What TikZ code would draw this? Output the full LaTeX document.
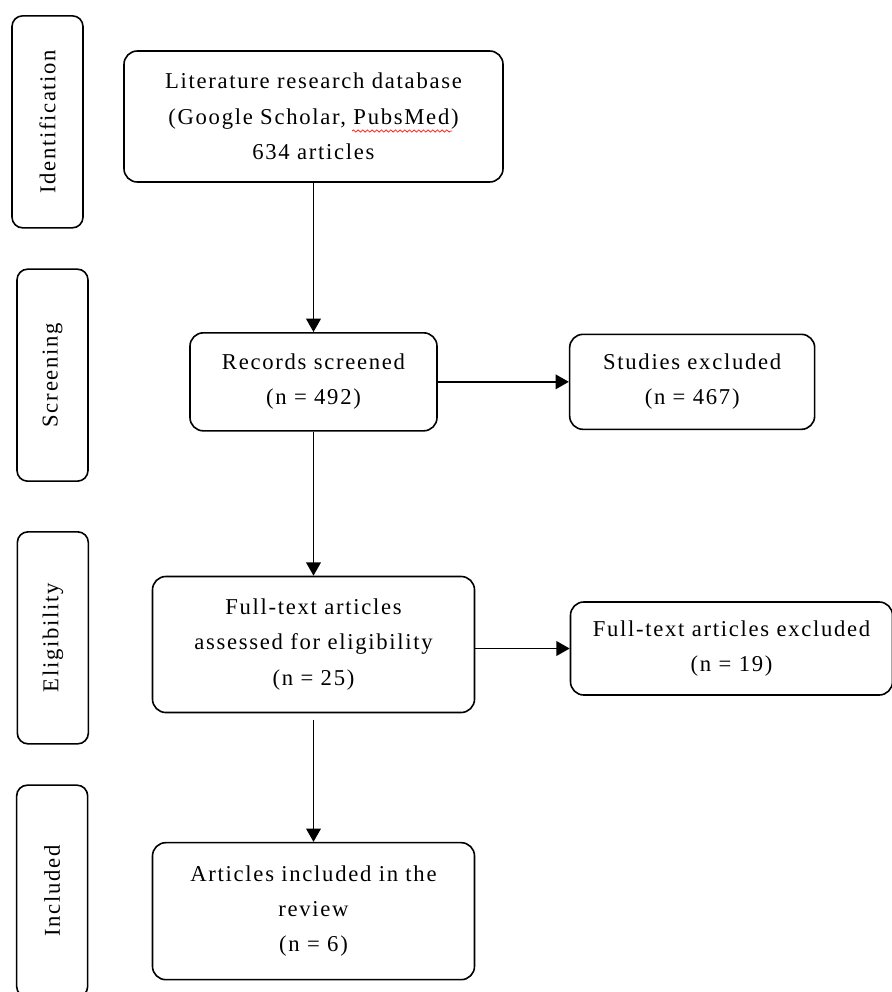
\documentclass[tikz,border=0pt]{standalone}
\usepackage{fontspec}
\setmainfont{Liberation Serif}[LetterSpace=7.5]
\usetikzlibrary{arrows.meta,positioning,decorations.pathmorphing}

\begin{document}
\begin{tikzpicture}[%
x=0.75pt, y=-0.75pt,
>={Triangle[length=10pt,width=11pt]},
node distance=199pt,
on grid,
line width=1.2pt,
box/.style={draw, rounded corners=10pt, align=center, inner sep=2pt,
  font=\fontsize{17}{26.5}\selectfont},
stage/.style={draw, rounded corners=8pt, rotate=90, minimum width=159pt,
  minimum height=53.25pt, font=\fontsize{17}{20}\selectfont},
spell/.style={red!85, line width=0.6pt, decorate,
  decoration={snake, amplitude=0.8pt, segment length=3.5pt}}
]
\path[use as bounding box, fill=white] (0,0) rectangle (892,992);

\node[box, minimum width=284.25pt, minimum height=98.25pt] (1) at (313.5,116.5)
  {Literature research database\\(Google Scholar, PubsMed)\\634 articles};
\node[box, minimum width=185.25pt, minimum height=73.5pt] (2) [below=of 1]
  {Records screened\\(n = 492)};
\node[box, minimum width=183.75pt, minimum height=71.25pt] (3) [right=284pt of 2]
  {Studies excluded\\(n = 467)};
\node[box, minimum width=241.5pt, minimum height=102pt] (4) [below=197pt of 2]
  {Full-text articles\\assessed for eligibility\\(n = 25)};
\node[box, minimum width=241.5pt, minimum height=69.75pt] (5) [right=313.5pt of 4, yshift=-3pt]
  {Full-text articles excluded\\(n = 19)};
\node[box, minimum width=241.5pt, minimum height=102.75pt] (6) [below=200pt of 4]
  {Articles included in the\\review\\(n = 6)};

% spell-check wave under PubsMed
\draw[spell] (352,131) -- (452,131);

% stages on the left
\node[left=199.5pt of 1, yshift=-4pt, stage] (s1) {Identification};
\node[left=195.75pt of 2, yshift=5pt, stage] (s2) {Screening};
\node[left=195.5pt of 4, yshift=5pt, stage] (s3) {Eligibility};
\node[left=196pt of 6, yshift=15pt, stage] (s4) {Included};

% main flow
\path[->] (1) edge (2);
\path[->] (2) edge (4);
\path[->] (4) edge [shorten <=5pt] (6);

% excluded records
\path[->] (2) edge (3);
\path[->] (4.east |- 5.west) edge (5.west);
\end{tikzpicture}
\end{document}
